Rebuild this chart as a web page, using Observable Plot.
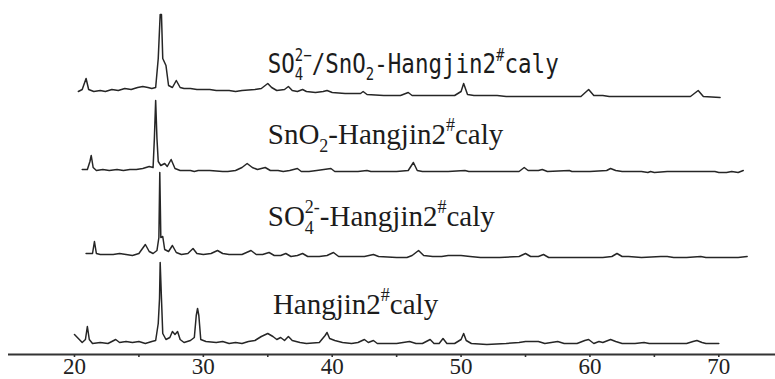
<!DOCTYPE html>
<html>
<head>
<meta charset="utf-8">
<script src="https://cdn.jsdelivr.net/npm/d3@7"></script>
<script src="https://cdn.jsdelivr.net/npm/@observablehq/plot@0.6"></script>
<style>
  html, body { margin: 0; padding: 0; background: #fff; }
  #chart svg { display: block; }
</style>
</head>
<body>
<div id="chart"></div>
<script>
// ---- data (2θ in degrees, intensity in arbitrary units above each pattern's baseline) ----
const seriesNames = ["SO4/SnO2-Hangjin2#caly", "SnO2-Hangjin2#caly", "SO4-Hangjin2#caly", "Hangjin2#caly"];
const seriesOffsets = [261, 183, 98, 11];

const sSO4SnO2 = [[20.3,2],[20.6,4],[20.9,15],[21.1,4],[21.5,2],[22,3],[22.4,2],[22.9,4],[23.4,3],[23.9,5],[24.4,4],[24.9,6],[25.3,7],[25.7,6],[26.0,5],[26.3,6],[26.5,35],[26.65,79],[26.75,79],[26.85,35],[27.1,28],[27.3,8],[27.6,6],[27.9,13],[28.2,6],[28.5,5],[29,5],[29.5,4],[30,4],[30.5,4],[31,3],[32,3],[32.5,2],[33,3],[34,4],[34.5,5],[35.0,10],[35.3,6],[35.7,3],[36.3,4],[36.6,7],[36.9,3],[37.3,2],[37.7,4],[38,2],[38.7,1],[39.3,2],[39.6,3],[40,1],[41,0],[41.5,0],[42.2,0],[42.4,2],[42.7,-1],[44,-2],[45.3,-2],[45.9,1],[46.2,-2],[47,-2],[48.5,-2],[49.5,-2],[50.0,2],[50.2,10],[50.5,-1],[51,-2],[52,-2],[52.8,-2],[53.5,-3],[54.5,-3],[55.5,-3],[56.5,-3],[57.5,-3],[59.3,-3],[59.9,4],[60.3,-2],[61,-2],[61.5,-3],[62.5,-3],[63.5,-3],[64.5,-3],[65.5,-3],[66.5,-3],[67.8,-3],[68.4,3],[68.8,-3],[70.1,-4]];

const sSnO2 = [[20.6,2],[21.0,2],[21.2,10],[21.3,16],[21.45,4],[21.7,1],[22.2,2],[22.7,1],[23.3,2],[23.8,1],[24.3,2],[24.8,2],[25.3,3],[25.8,5],[26.1,4],[26.2,33],[26.3,71],[26.4,33],[26.5,10],[26.7,6],[27.0,8],[27.2,5],[27.5,12],[27.8,3],[28.2,1],[29,1],[29.3,0],[29.6,1],[30.5,1],[31.5,0],[31.9,0],[32.5,1],[33.0,4],[33.4,8],[33.8,4],[34.2,2],[34.8,4],[35.2,1],[35.8,1],[36.2,0],[36.7,1],[37.3,3],[37.6,0],[38.2,0],[38.8,1],[39.9,3],[40.2,0],[41,0],[42,0],[42.7,1],[43,0],[44,0],[45,0],[45.9,1],[46.3,9],[46.6,1],[47,0],[48,0],[49,0],[50.3,1],[50.6,0],[51.5,0],[53,0],[54.5,0],[54.9,4],[55.2,1],[56,1],[56.3,2],[56.7,0],[58.4,1],[58.6,0],[60,0],[61.3,1],[61.6,3],[62,1],[62.5,0],[64,0],[64.5,-1],[64.7,0],[65,-1],[66,0],[68,0],[69.7,0],[70,-1],[70.6,-1],[71,0],[71.5,-1],[71.9,1]];

const sSO4 = [[20.9,3],[21.4,3],[21.55,15],[21.7,3],[22,2],[22.5,2],[23,2],[23.5,3],[24,2],[24.5,1],[25.0,3],[25.5,12],[25.8,5],[26.1,3],[26.4,6],[26.55,19],[26.62,84],[26.7,19],[26.85,20],[27.0,7],[27.3,5],[27.6,11],[27.9,4],[28.3,2],[28.8,3],[29.2,8],[29.5,3],[30,2],[30.6,3],[31.1,6],[31.5,3],[32,2],[33,2],[33.7,6],[34.1,2],[34.6,2],[35.1,4],[35.5,1],[36,1],[36.4,3],[36.8,0],[37.3,1],[37.7,3],[38.1,0],[39,0],[39.6,1],[40.1,4],[40.5,0],[41.5,0],[42.5,0],[43.2,2],[43.6,0],[45,-1],[45.8,-1],[46.2,1],[46.7,6],[47.1,1],[47.8,0],[48.5,0],[49,1],[50,1],[50.7,0],[51.5,-1],[53,-1],[54.5,0],[55.0,3],[55.4,0],[56,0],[56.4,2],[56.8,-1],[58,-1],[59.5,-1],[61,-1],[61.7,0],[62.1,3],[62.5,0],[63,0],[64,-1],[65.5,0],[66,0],[66.5,-1],[67.5,-1],[68.6,0],[69,-1],[70.5,-1],[71.5,-1],[72.2,0]];

const sHangjin = [[20.0,9],[20.6,1],[20.85,4],[21.0,17],[21.15,4],[21.4,0],[22.0,1],[22.6,0],[23.2,4],[23.5,1],[24.0,2],[24.5,1],[25.0,2],[25.5,0],[26.0,2],[26.3,3],[26.5,20],[26.6,45],[26.65,81],[26.75,45],[26.85,10],[27.1,4],[27.4,6],[27.6,12],[27.8,9],[28.0,12],[28.2,4],[28.5,1],[29.0,3],[29.3,6],[29.45,28],[29.55,35],[29.65,28],[29.8,4],[30.2,2],[31,1],[31.5,2],[32,0],[32.5,1],[33,0],[33.5,2],[34,3],[34.5,7],[35.0,10],[35.4,7],[35.7,4],[36.0,6],[36.3,3],[36.6,7],[36.9,3],[37.5,1],[38,0],[39,1],[39.45,8],[39.6,11],[39.8,5],[40.2,3],[40.8,1],[41.5,0],[42.0,1],[42.5,4],[42.8,1],[43.2,3],[43.5,0],[44,0],[45,0],[45.5,1],[46,2],[46.5,0],[47,0],[47.6,4],[47.9,0],[48.3,0],[48.6,5],[48.9,0],[49.5,0],[50.0,4],[50.2,10],[50.4,3],[50.8,0],[52,-1],[53.5,0],[54.5,1],[55,2],[56,2],[56.5,0],[57,1],[57.5,2],[58,0],[59,0],[59.6,3],[59.9,4],[60.3,0],[60.7,2],[61,1],[61.6,4],[62,2],[62.5,0],[63.5,0],[64.2,1],[64.6,0],[65.5,0],[66.5,0],[67.5,0],[68.0,2],[68.3,3],[68.7,1],[69,0],[70,0]];

const seriesData = [sSO4SnO2, sSnO2, sSO4, sHangjin];

// labels: markup (_{} subscript, ^{} superscript), anchor 2θ, anchor height (baseline)
const labelMarkup = ["SO_{4}^{2\u2212}/SnO_{2}-Hangjin2^{#}caly", "SnO_{2}-Hangjin2^{#}caly", "SO_{4}^{2-}-Hangjin2^{#}caly", "Hangjin2^{#}caly"];
const labelX = [35.0, 35.0, 35.0, 35.4];
const labelY = [282, 211, 129, 41];
const labelFont = ["'DejaVu Sans Mono', monospace", "'Liberation Serif', serif", "'Liberation Serif', serif", "'Liberation Serif', serif"];
const labelSize = [22.5, 29, 29, 29];
const labelStretchY = [1.22, 1, 1, 1];

const tickValues = [20, 25, 30, 35, 40, 45, 50, 55, 60, 65, 70];
const xDomain = [14.88, 74.4];

// ---- build tables ----
const rows = [];
seriesData.forEach((pts, i) => {
  pts.forEach(([t, v]) => rows.push({series: seriesNames[i], theta: t, y: v + seriesOffsets[i]}));
});
const plain = s => s.replace(/[_^]\{([^}]*)\}/g, "$1");
const labels = labelMarkup.map((m, i) => ({markup: m, text: plain(m), x: labelX[i], y: labelY[i], font: labelFont[i], size: labelSize[i], sy: labelStretchY[i]}));

const ink = "#262626";
const chart = Plot.plot({
  width: 775,
  height: 379,
  marginLeft: 8,
  marginRight: 0,
  marginTop: 0,
  marginBottom: 25,
  style: {background: "#fff", fontFamily: "'Liberation Serif', serif", color: ink},
  x: {domain: xDomain},
  y: {domain: [0, 354], axis: null},
  marks: [
    Plot.ruleY([0], {stroke: "#333", strokeWidth: 2}),
    Plot.axisX({ticks: tickValues, tickSize: 3, tickPadding: 0, tickFormat: d => d % 10 === 0 ? String(d) : "", fontSize: 23, fontFamily: "'Liberation Serif', serif", stroke: "#333", strokeWidth: 1.6, fill: "#222", label: null}),
    Plot.line(rows, {x: "theta", y: "y", z: "series", stroke: ink, strokeWidth: 1.5, strokeLinejoin: "round"}),
    Plot.text(labels, {x: "x", y: "y", text: "text", textAnchor: "start", lineAnchor: "bottom", fill: "#1c1c1c", className: "rich-label"})
  ]
});
document.getElementById("chart").appendChild(chart);

// rebuild label text with sub/superscripts as tspans
const NS = "http://www.w3.org/2000/svg";
const texts = chart.querySelectorAll(".rich-label text");
texts.forEach((el, i) => {
  const lab = labels[i];
  const fs = lab.size;
  el.setAttribute("font-family", lab.font);
  el.style.fontFamily = lab.font;
  el.style.fontSize = fs + "px";
  if (lab.sy !== 1) {
    const tr = el.getAttribute("transform") || "";
    el.setAttribute("transform", tr + ` scale(1,${lab.sy})`);
  }
  el.textContent = "";
  let cur = 0, lastSub = null;
  for (const m of lab.markup.matchAll(/([_^])\{([^}]*)\}|([^_^]+)/g)) {
    const ts = document.createElementNS(NS, "tspan");
    let size = fs, shift = 0;
    if (m[3]) { ts.textContent = m[3]; }
    else {
      ts.textContent = m[2];
      size = Math.round(fs * 0.62);
      shift = m[1] === "_" ? 0.28 * fs : -0.42 * fs;
    }
    ts.style.fontSize = size + "px";
    ts.setAttribute("dy", (shift - cur).toFixed(2));
    cur = shift;
    el.appendChild(ts);
    if (m[1] === "^" && lastSub) ts.setAttribute("dx", (-lastSub.getComputedTextLength()).toFixed(2));
    lastSub = m[1] === "_" ? ts : null;
  }
});
</script>
</body>
</html>
